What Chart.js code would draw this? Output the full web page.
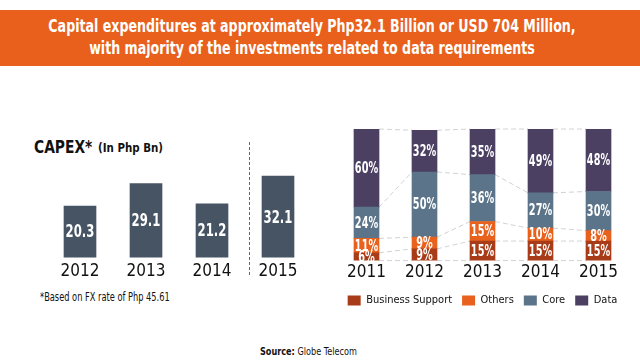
<!DOCTYPE html>
<html>
<head>
<meta charset="utf-8">
<script src="https://cdn.jsdelivr.net/npm/chart.js@4.4.0/dist/chart.umd.min.js"></script>
<style>
  body { margin: 0; width: 640px; height: 360px; background: #fff; position: relative; overflow: hidden;
         font-family: "DejaVu Sans Condensed", "DejaVu Sans", sans-serif; color: #111; }
  .txt { position: absolute; white-space: nowrap; transform-origin: 0 0; }
  #band { position: absolute; left: 0; top: 10px; width: 640px; height: 56px; background: #E8601C; }
  #header { position: absolute; left: 312px; top: 15px; color: #fff; font-weight: bold; font-size: 18px;
            line-height: 22px; text-align: center; white-space: nowrap; }
  #capexTitle { left: 34px; top: 136px; font-weight: bold; font-size: 18px; }
  #capexUnit { left: 98px; top: 140px; font-weight: bold; font-size: 13px; }
  #divider { position: absolute; left: 249px; top: 142px; height: 133px; border-left: 1px dashed #666; }
  #note { left: 40px; top: 290px; font-size: 12px; }
  #source { left: 260px; top: 345px; font-size: 11px; }
  #capexWrap { position: absolute; left: 47px; top: 156px; width: 264px; height: 130px; }
  #mixWrap { position: absolute; left: 320px; top: 120px; width: 320px; height: 196px; }
</style>
</head>
<body>
<div id="band"></div>
<div id="header">Capital expenditures at approximately Php32.1 Billion or USD 704 Million,<br>with majority of the investments related to data requirements</div>
<div id="capexTitle" class="txt">CAPEX*</div>
<div id="capexUnit" class="txt">(In Php Bn)</div>
<div id="divider"></div>
<div id="note" class="txt">*Based on FX rate of Php 45.61</div>
<div id="source" class="txt"><b>Source:</b> Globe Telecom</div>
<div id="capexWrap"><canvas id="capex"></canvas></div>
<div id="mixWrap"><canvas id="mix"></canvas></div>
<script>
// CAPEX totals (Php Bn)
const capexYears = ['2012', '2013', '2014', '2015'];
const capexValues = [20.3, 29.1, 21.2, 32.1];

// CAPEX mix (%)
const mixYears = ['2011', '2012', '2013', '2014', '2015'];
const businessSupport = [6, 9, 15, 15, 15];
const others = [11, 9, 15, 10, 8];
const core = [24, 50, 36, 27, 30];
const data = [60, 32, 35, 49, 48];

const fontFamily = '"DejaVu Sans Condensed", "DejaVu Sans", sans-serif';

// squeeze html text to the width it has in the picture (narrow font look)
function squeeze(id, w, centered) {
  const el = document.getElementById(id);
  const s = w / el.offsetWidth;
  if (centered) {
    el.style.transform = 'translateX(-50%) scaleX(' + s + ')';
    el.style.transformOrigin = '50% 0';
  } else {
    el.style.transform = 'scaleX(' + s + ')';
  }
}
squeeze('header', 527, true);
squeeze('capexTitle', 58);
squeeze('capexUnit', 65);
squeeze('note', 130);
squeeze('source', 97);

// writes the value in the middle of each bar
const barLabels = {
  id: 'barLabels',
  afterDatasetsDraw(chart, args, opts) {
    const ctx = chart.ctx;
    const sx = 0.72;
    ctx.save();
    ctx.fillStyle = '#fff';
    ctx.font = 'bold ' + opts.size + 'px ' + fontFamily;
    ctx.textAlign = 'center';
    ctx.textBaseline = 'middle';
    ctx.scale(sx, 1);
    chart.data.datasets.forEach(function(ds, i) {
      chart.getDatasetMeta(i).data.forEach(function(bar, j) {
        const mid = (bar.y + bar.base) / 2;
        ctx.fillText(ds.data[j] + opts.suffix, bar.x / sx, mid + 1);
      });
    });
    ctx.restore();
  }
};

// dashed lines joining the segment tops between bars
const connectors = {
  id: 'connectors',
  beforeDatasetsDraw(chart) {
    const ctx = chart.ctx;
    const metas = chart.data.datasets.map(function(ds, i) { return chart.getDatasetMeta(i); });
    ctx.save();
    ctx.strokeStyle = '#d2d2d2';
    ctx.lineWidth = 1;
    ctx.setLineDash([5, 3]);
    const n = chart.data.labels.length;
    for (let j = 0; j < n - 1; j++) {
      const a = metas[0].data[j], b = metas[0].data[j + 1];
      const x1 = a.x + a.width / 2, x2 = b.x - b.width / 2;
      ctx.beginPath();
      ctx.moveTo(x1, a.base);
      ctx.lineTo(x2, b.base);
      metas.forEach(function(m) {
        ctx.moveTo(x1, m.data[j].y);
        ctx.lineTo(x2, m.data[j + 1].y);
      });
      ctx.stroke();
    }
    ctx.restore();
  }
};

new Chart(document.getElementById('capex'), {
  type: 'bar',
  data: {
    labels: capexYears,
    datasets: [{
      data: capexValues,
      backgroundColor: '#465463',
      barThickness: 32
    }]
  },
  options: {
    responsive: true,
    maintainAspectRatio: false,
    animation: false,
    layout: { padding: 0 },
    plugins: {
      legend: { display: false },
      tooltip: { enabled: false },
      barLabels: { size: 18, suffix: '' }
    },
    scales: {
      x: {
        grid: { display: false, drawTicks: false },
        border: { display: false },
        ticks: { color: '#111', font: { family: fontFamily, size: 17 }, padding: 4 }
      },
      y: { display: false, min: 0, max: 40 }
    }
  },
  plugins: [barLabels]
});

new Chart(document.getElementById('mix'), {
  type: 'bar',
  data: {
    labels: mixYears,
    datasets: [
      { label: 'Business Support', data: businessSupport, backgroundColor: '#A83C18' },
      { label: 'Others', data: others, backgroundColor: '#E8621E' },
      { label: 'Core', data: core, backgroundColor: '#5C7489' },
      { label: 'Data', data: data, backgroundColor: '#4B3F62' }
    ]
  },
  options: {
    responsive: true,
    maintainAspectRatio: false,
    animation: false,
    layout: { padding: { top: 9, left: 17.5, right: 12.5, bottom: 0 } },
    datasets: { bar: { barThickness: 25 } },
    plugins: {
      legend: {
        position: 'bottom',
        labels: {
          color: '#111',
          boxWidth: 13,
          boxHeight: 10,
          padding: 10,
          font: { family: fontFamily, size: 11 }
        }
      },
      tooltip: { enabled: false },
      barLabels: { size: 15, suffix: '%' }
    },
    scales: {
      x: {
        stacked: true,
        grid: { display: false, drawTicks: false },
        border: { display: false },
        ticks: { color: '#111', font: { family: fontFamily, size: 17 }, padding: 2 }
      },
      y: { stacked: true, display: false, min: 0, max: 101 }
    }
  },
  plugins: [connectors, barLabels]
});
</script>
</body>
</html>
